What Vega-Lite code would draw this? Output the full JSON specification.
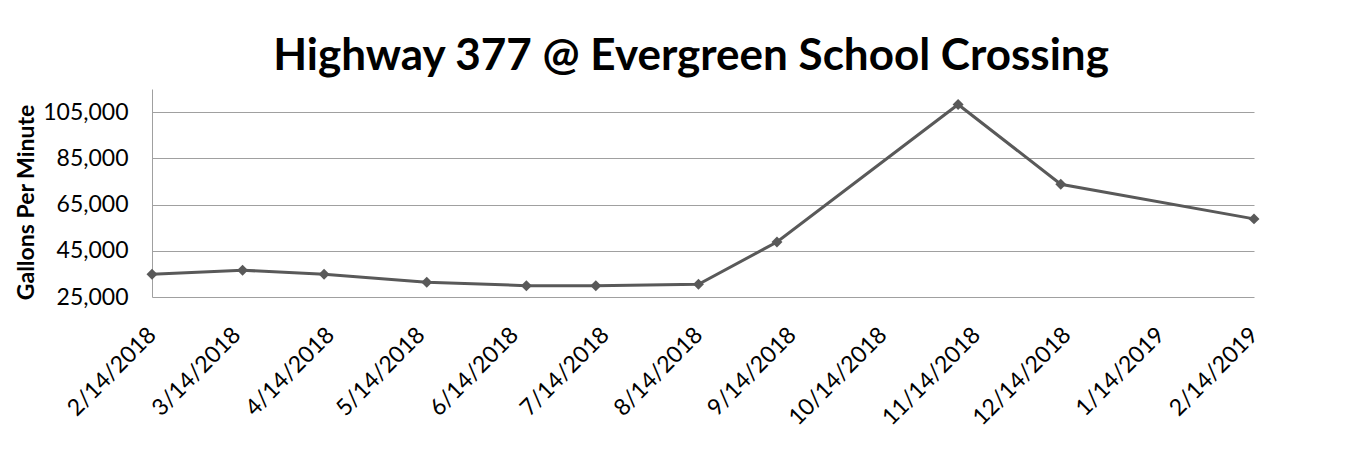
{
  "$schema": "https://vega.github.io/schema/vega-lite/v6.json",
  "width": 1102,
  "height": 208,
  "autosize": {"type": "none"},
  "padding": {"left": 152, "top": 89, "right": 118, "bottom": 170},
  "background": "white",
  "config": {"view": {"stroke": null}},
  "title": {
    "text": "Highway 377 @ Evergreen School Crossing",
    "font": "Lato",
    "fontSize": 44,
    "fontWeight": "bold",
    "color": "#000000",
    "anchor": "middle",
    "offset": 10,
    "dx": -12
  },
  "data": {
    "values": [
      {"date": "2018-02-14", "gpm": 34800},
      {"date": "2018-03-16", "gpm": 36600},
      {"date": "2018-04-12", "gpm": 34800},
      {"date": "2018-05-16", "gpm": 31400},
      {"date": "2018-06-18", "gpm": 29900},
      {"date": "2018-07-11", "gpm": 29900},
      {"date": "2018-08-14", "gpm": 30500},
      {"date": "2018-09-09", "gpm": 48800},
      {"date": "2018-11-08", "gpm": 108300},
      {"date": "2018-12-12", "gpm": 73800},
      {"date": "2019-02-14", "gpm": 58800}
    ]
  },
  "mark": {
    "type": "line",
    "color": "#595959",
    "strokeWidth": 3,
    "point": {"shape": "diamond", "size": 120, "filled": true, "color": "#595959", "opacity": 1}
  },
  "encoding": {
    "x": {
      "field": "date",
      "type": "temporal",
      "scale": {
        "type": "utc",
        "domain": [
          {"year": 2018, "month": 2, "date": 14, "utc": true},
          {"year": 2019, "month": 2, "date": 14, "utc": true}
        ]
      },
      "axis": {
        "title": null,
        "values": [
          {"year": 2018, "month": 2, "date": 14, "utc": true},
          {"year": 2018, "month": 3, "date": 14, "utc": true},
          {"year": 2018, "month": 4, "date": 14, "utc": true},
          {"year": 2018, "month": 5, "date": 14, "utc": true},
          {"year": 2018, "month": 6, "date": 14, "utc": true},
          {"year": 2018, "month": 7, "date": 14, "utc": true},
          {"year": 2018, "month": 8, "date": 14, "utc": true},
          {"year": 2018, "month": 9, "date": 14, "utc": true},
          {"year": 2018, "month": 10, "date": 14, "utc": true},
          {"year": 2018, "month": 11, "date": 14, "utc": true},
          {"year": 2018, "month": 12, "date": 14, "utc": true},
          {"year": 2019, "month": 1, "date": 14, "utc": true},
          {"year": 2019, "month": 2, "date": 14, "utc": true}
        ],
        "format": "%-m/%-d/%Y",
        "domain": false,
        "ticks": false,
        "grid": false,
        "labelAngle": -45,
        "labelAlign": "right",
        "labelBaseline": "middle",
        "labelFont": "Lato",
        "labelFontSize": 23,
        "labelColor": "#000000",
        "labelPadding": 34,
        "labelOverlap": false,
        "labelFlush": false,
        "labelBound": false
      }
    },
    "y": {
      "field": "gpm",
      "type": "quantitative",
      "scale": {"domain": [25000, 115000], "nice": false, "zero": false},
      "axis": {
        "values": [25000, 45000, 65000, 85000, 105000],
        "format": ",.0f",
        "grid": true,
        "gridColor": "#a0a0a0",
        "gridWidth": 1,
        "ticks": false,
        "domain": true,
        "domainColor": "#a0a0a0",
        "labelFont": "Lato",
        "labelFontSize": 23,
        "labelColor": "#000000",
        "labelPadding": 24,
        "title": "Gallons Per Minute",
        "titleFont": "Lato",
        "titleFontSize": 23,
        "titleFontWeight": "bold",
        "titleColor": "#000000",
        "titlePadding": 4,
        "titleY": 113
      }
    }
  }
}
